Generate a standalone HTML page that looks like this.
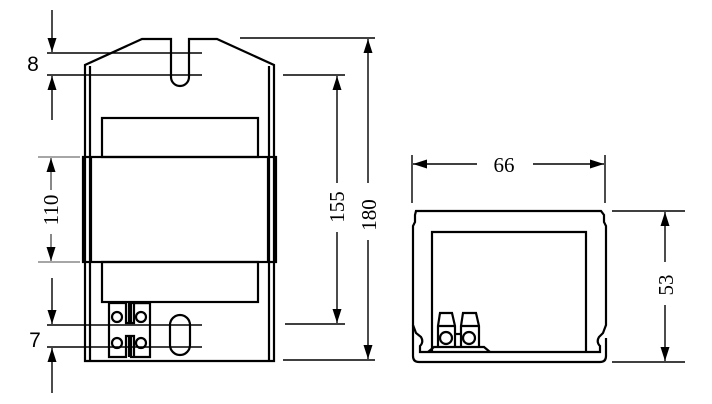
<!DOCTYPE html>
<html><head><style>body{margin:0;background:#fff}svg{display:block}</style></head>
<body>
<svg width="712" height="404" viewBox="0 0 712 404" xmlns="http://www.w3.org/2000/svg" font-family="Liberation Serif, serif" fill="none" stroke="#000">
<defs>
<marker id="a" viewBox="0 0 10 10" refX="10" refY="5" markerWidth="14" markerHeight="9" preserveAspectRatio="none" orient="auto" markerUnits="userSpaceOnUse"><path d="M0,0 L10,5 L0,10z" fill="#000" stroke="none"/></marker>
</defs>
<g stroke-width="2.2">
<path d="M85,361 L85,65 L142,39 L171,39 L171,77 A9,9 0 0 0 189,77 L189,39 L217,39 L274,65 L274,361 Z"/>
<path d="M90,361 L90,66 M269,361 L269,66"/>
<rect x="102" y="118" width="156" height="39"/>
<rect x="83" y="157" width="193" height="105"/>
<path d="M91,157 V262 M268,157 V262"/>
<rect x="102" y="262" width="156" height="40"/>
<path d="M109,303 V357 H126 V336 H129 V357"/>
<path d="M126,303 V323 H129 V303"/>
<path d="M131,303 V323 H134 V303 M134,303 H150 V357 H131 V336 H134 V357"/>
<path d="M109,303 H126 M131,303 H150"/>
<circle cx="117" cy="317" r="5"/><circle cx="141" cy="317" r="5"/>
<circle cx="117" cy="343" r="5"/><circle cx="141" cy="343" r="5"/>
<rect x="170" y="315" width="20" height="40" rx="10"/>
<path d="M416,211 H601 L604,215 V222 L606,226 V325 L603,333 L599,337 Q596,342 600,346 V352 H420 V346 Q424,342 421,337 L416,333 L413,325 V226 L415,222 V215 Z"/>
<path d="M413,325 V356 Q413,362 419,362 H600 Q606,362 606,356 V338"/>
<path d="M432,352 V232 H586 V352"/>
<path d="M428,352 L434,347 H484 L490,352"/>
<path d="M438,347 V326 L440,313 H452 L455,326 V347 M438,326 H455"/>
<path d="M461,347 V326 L463,313 H476 L479,326 V347 M461,326 H479"/>
<path d="M455,334 H461"/>
<circle cx="446" cy="338" r="6"/><circle cx="469" cy="338" r="6"/>
</g>
<g stroke-width="1.4">
<path d="M47,53 H202 M47,75 H202"/>
<path d="M52,10 V52" marker-end="url(#a)"/>
<path d="M52,120 V76" marker-end="url(#a)"/>
<path d="M38,157 H80 M38,262 H80" stroke="#888"/>
<path d="M51,190 V158" marker-end="url(#a)" stroke="#555"/>
<path d="M51,234 V261" marker-end="url(#a)" stroke="#555"/>
<path d="M47,325 H202 M47,347 H202"/>
<path d="M52,278 V324" marker-end="url(#a)"/>
<path d="M52,393 V348" marker-end="url(#a)"/>
<path d="M283,75 H345 M285,324 H345"/>
<path d="M337,183 V76" marker-end="url(#a)"/>
<path d="M337,232 V323" marker-end="url(#a)"/>
<path d="M240,38 H375 M283,360 H375"/>
<path d="M368,183 V39" marker-end="url(#a)"/>
<path d="M368,240 V359" marker-end="url(#a)"/>
<path d="M477,164 H413" marker-end="url(#a)"/>
<path d="M533,164 H604" marker-end="url(#a)"/>
<path d="M412,155 V203 M605,155 V203"/>
<path d="M612,211 H685 M612,362 H685"/>
<path d="M665,262 V212" marker-end="url(#a)"/>
<path d="M665,305 V361" marker-end="url(#a)"/>
</g>
<g fill="#000" stroke="none" font-size="21">
<text x="33" y="71" text-anchor="middle" font-family="Liberation Sans, sans-serif">8</text>
<text x="35" y="347" text-anchor="middle" font-family="Liberation Sans, sans-serif">7</text>
<text transform="translate(58,210) rotate(-90)" text-anchor="middle">110</text>
<text transform="translate(344,207) rotate(-90)" text-anchor="middle">155</text>
<text transform="translate(376,215) rotate(-90)" text-anchor="middle">180</text>
<text x="504" y="172" text-anchor="middle">66</text>
<text transform="translate(673,285) rotate(-90)" text-anchor="middle">53</text>
</g>
</svg>
</body></html>
